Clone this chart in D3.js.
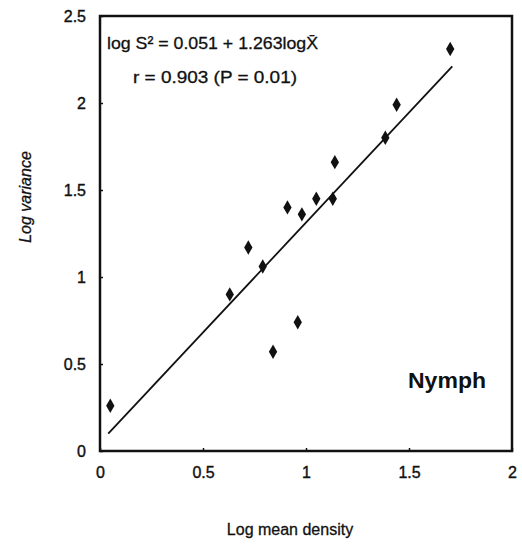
<!DOCTYPE html>
<html><head><meta charset="utf-8">
<script src="https://cdn.jsdelivr.net/npm/d3@7"></script>
<style>body{margin:0;background:#fff}svg{display:block}</style>
</head><body>
<svg id="c" width="522" height="546"></svg>
<script>
const logMean = [0.05,0.63,0.72,0.79,0.84,0.91,0.96,0.98,1.05,1.13,1.14,1.385,1.44,1.70];
const logVar  = [0.26,0.90,1.17,1.06,0.57,1.40,0.74,1.36,1.45,1.45,1.66,1.80,1.99,2.31];
const fitX = [0.04,1.71];
const fitY = [0.10,2.21];
const xTicks = [0,0.5,1,1.5,2];
const yTicks = [0,0.5,1,1.5,2,2.5];
const xLabels = ["0","0.5","1","1.5","2"];
const yLabels = ["0","0.5","1","1.5","2","2.5"];

const svg = d3.select("#c");
const L=100,R=512,T=16,B=451;
const x = d3.scaleLinear().domain([0,2]).range([L,R]);
const y = d3.scaleLinear().domain([0,2.5]).range([B,T]);
const font = "'Liberation Sans', Arial, sans-serif";
const ink = "#111";

// ticks (inward)
const xa = svg.append("g").attr("transform",`translate(0,${B})`)
  .call(d3.axisBottom(x).tickValues(xTicks).tickSize(-3).tickPadding(22).tickFormat((d,i)=>xLabels[i]));
const ya = svg.append("g").attr("transform",`translate(${L},0)`)
  .call(d3.axisLeft(y).tickValues(yTicks).tickSize(-3).tickPadding(14).tickFormat((d,i)=>yLabels[i]));
[xa,ya].forEach(a=>{
  a.select(".domain").remove();
  a.selectAll("line").attr("stroke",ink).attr("stroke-width",1.5);
  a.selectAll("text").attr("font-family",font).attr("font-size",16).attr("fill",ink)
    .attr("stroke",ink).attr("stroke-width",0.4);
});
xa.selectAll("text").attr("dy","0.3em");

// frame
svg.append("rect").attr("x",L).attr("y",T).attr("width",R-L).attr("height",B-T)
  .attr("fill","none").attr("stroke",ink).attr("stroke-width",2.5);

// fit line
svg.append("line").attr("x1",x(fitX[0])).attr("y1",y(fitY[0])).attr("x2",x(fitX[1])).attr("y2",y(fitY[1]))
  .attr("stroke",ink).attr("stroke-width",1.8);

// points
svg.append("g").selectAll("path").data(logMean).join("path")
  .attr("transform",(d,i)=>`translate(${x(d)},${y(logVar[i])})`)
  .attr("d",d3.symbol().type(d3.symbolDiamond).size(60))
  .attr("fill",ink);

// equation
const narrow = "'Liberation Sans Narrow', 'Liberation Sans', sans-serif";
svg.append("text").attr("x",107).attr("y",49).attr("font-family",narrow)
  .attr("font-size",17).attr("textLength",211).attr("lengthAdjust","spacingAndGlyphs").attr("fill",ink)
  .attr("stroke",ink).attr("stroke-width",0.3)
  .text("log S\u00B2 = 0.051 + 1.263logX\u0304");
svg.append("text").attr("x",133).attr("y",83).attr("font-family",narrow)
  .attr("font-size",17).attr("textLength",164).attr("lengthAdjust","spacingAndGlyphs").attr("fill",ink)
  .attr("stroke",ink).attr("stroke-width",0.3)
  .text("r = 0.903 (P = 0.01)");

// Nymph
svg.append("text").attr("x",408).attr("y",388).attr("font-family",font).attr("font-weight","bold")
  .attr("font-size",22).attr("textLength",78).attr("lengthAdjust","spacingAndGlyphs").attr("fill",ink).text("Nymph");

// axis titles
svg.append("text").attr("x",290).attr("y",535).attr("text-anchor","middle").attr("font-family",font)
  .attr("font-size",16).attr("fill",ink).attr("stroke",ink).attr("stroke-width",0.3).text("Log mean density");
svg.append("text").attr("transform","translate(31,197) rotate(-90)").attr("text-anchor","middle").attr("font-family",font)
  .attr("font-size",16).attr("font-style","italic").attr("fill",ink).attr("stroke",ink).attr("stroke-width",0.3).text("Log variance");
</script>
</body></html>
